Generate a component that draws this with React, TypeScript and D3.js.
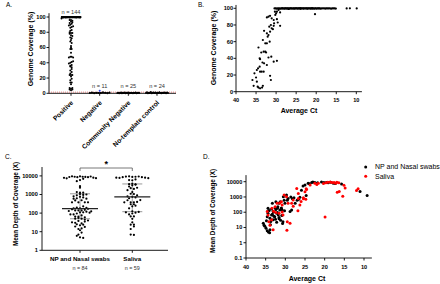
import React from 'react';
import * as d3 from 'd3';

const FONT = '"Liberation Sans", Arial, Helvetica, sans-serif';

// ---------- Panel A / B data ----------
const groupsA = ['Positive', 'Negative', 'Community Negative', 'No-template control'];
const groupCountsA = [144, 11, 25, 24];
const yTicksA = [0, 20, 40, 60, 80, 100];
const thresholdA = 1.5;

const positiveCt = [
  35.6, 35.9, 35.4, 35.0, 34.8, 34.6, 34.4, 34.0, 33.5, 33.3,
  34.8, 34.5, 34.1, 34.0, 33.6, 33.1, 33.4, 33.0, 34.0, 34.1,
  32.3, 31.9, 31.2, 31.5, 31.3, 30.6, 29.8, 34.4, 33.7, 33.1,
  32.7, 32.5, 33.3, 32.7, 32.3, 31.6, 33.0, 32.3, 31.9, 32.1,
  31.5, 31.7, 31.3, 31.1, 30.8, 30.6, 32.3, 31.9, 31.5, 31.1,
  30.6, 30.5, 30.2, 30.0, 29.8, 29.8, 29.6, 29.0, 30.3, 29.4,
  29.0, 20.3,
  30.4, 30.1, 29.9, 29.6, 29.3, 29.1, 28.9, 28.7, 28.5, 28.4, 28.2, 28.0,
  27.8, 27.7, 27.5, 27.3, 27.2, 27.0, 26.8, 26.7, 26.5, 26.3, 26.2, 26.0,
  25.8, 25.6, 25.5, 25.3, 25.1, 25.0, 24.8, 24.6, 24.5, 24.3, 24.1, 23.9,
  23.8, 23.6, 23.4, 23.2, 23.1, 22.9, 22.7, 22.5, 22.3, 22.2, 22.0, 21.8,
  21.6, 21.4, 21.3, 21.1, 20.9, 20.7, 20.5, 20.3, 20.1, 19.9, 19.7, 19.5,
  19.3, 19.1, 18.9, 18.6, 18.3, 18.0, 17.7, 17.5, 17.2, 16.9, 16.6, 16.3,
  16.0, 15.7, 15.4, 15.1, 12.4, 11.6, 9.9, 26.9, 24.0, 21.0,
];
const positiveCoverage = [
  7, 14, 22, 17, 12, 6, 5, 4, 5, 7,
  26, 28, 30, 24, 24, 24, 35, 34, 39, 40,
  32, 41, 42, 19, 14, 36, 37, 53, 47, 48,
  48, 47, 62, 58, 58, 60, 73, 70, 68, 66,
  72, 78, 80, 76, 75, 79, 89, 90, 91, 88,
  86, 82, 92, 94, 96, 87, 83, 79, 96, 98,
  95, 93,
  99.8, 100, 99.6, 99.9, 100, 99.7, 99.5, 100, 99.9, 99.8,
  100, 99.6, 99.9, 100, 99.8, 99.7, 100, 99.9, 99.4, 100,
  99.8, 99.9, 100, 99.7, 99.9, 100, 99.6, 99.8, 100, 99.9,
  100, 99.7, 99.8, 100, 99.9, 99.5, 100, 99.8, 99.9, 100,
  99.7, 100, 99.9, 99.8, 100, 99.6, 99.9, 100, 99.8, 99.7,
  100, 99.9, 100, 99.8, 99.6, 100, 99.9, 99.7, 100, 99.8,
  99.9, 100, 99.5, 99.8, 100, 99.9, 99.7, 100, 99.8, 99.9,
  100, 99.6, 99.8, 100, 99.9, 99.7, 99.8, 100, 99.9, 99.2,
  99.8, 99.9,
];
const negativeCoverage = [0.4, 1.1, 0.2, 0.8, 0.5, 3.2, 0.3, 1.4, 0.6, 0.1, 0.9];
const negativeFlagIndex = 5;
const communityNegCoverage = [
  0.3, 0.8, 0.1, 0.5, 1.2, 0.2, 0.6, 0.4, 0.9, 0.1, 0.7, 0.3, 1.0,
  0.2, 0.5, 0.8, 0.4, 0.1, 0.6, 0.3, 1.1, 0.2, 0.5, 0.7, 0.4,
];
const ntcCoverage = [
  0.5, 1.3, 0.2, 0.8, 0.4, 1.6, 0.1, 0.6, 0.9, 0.3, 1.1, 0.2,
  0.7, 0.4, 1.4, 0.5, 0.2, 0.8, 0.3, 1.0, 0.6, 0.1, 0.9, 0.4,
];

const xTicksCt = [40, 35, 30, 25, 20, 15, 10];

// ---------- Panel C / D data ----------
const groupsC = ['NP and Nasal swabs', 'Saliva'];
const groupCountsC = [84, 59];
const yTicksC = [1, 10, 100, 1000, 10000];
const yTicksD = [0.1, 1, 10, 100, 1000, 10000];

const npCt = [
  34.6, 34.3, 34.0, 33.9,
  35.6, 35.4, 35.2, 34.9, 33.8, 30.7,
  33.7, 33.1, 32.2, 31.2, 30.6, 31.6, 34.8, 32.5,
  34.6, 34.4, 33.9, 33.5, 32.9, 32.7, 32.2, 31.8, 31.6, 33.3, 32.0, 30.9,
  34.1, 33.5, 33.1, 31.4, 30.8, 28.8, 28.4, 34.4, 32.4, 31.0, 30.2, 33.0,
  34.4, 32.6, 32.0, 31.9, 31.0,
  33.3, 32.4, 31.6, 31.3, 30.1, 30.3, 29.5, 29.3, 28.2, 27.5, 27.8, 26.6, 27.0,
  30.5, 29.7, 26.3, 24.7, 9.2, 28.6,
  25.9, 11.0,
  25.5, 25.0, 24.2, 23.9, 23.3, 23.0, 22.5, 21.8, 20.8, 20.2, 19.6, 19.1, 18.5, 17.8, 17.3, 15.7,
];
const npDepth = [
  6, 5, 4.6, 7,
  19, 14, 12, 9, 15, 18,
  25, 32, 22, 30, 24, 38, 28, 35,
  50, 85, 40, 65, 55, 50, 85, 65, 45, 75, 95, 60,
  130, 160, 110, 140, 140, 110, 140, 120, 150, 170, 125, 105,
  180, 200, 180, 230, 190,
  380, 480, 380, 490, 380, 600, 620, 800, 750, 380, 900, 700, 600,
  1050, 1350, 950, 1250, 1250, 1000,
  2800, 2300,
  5200, 6000, 7900, 7400, 8700, 9500, 9000, 8500, 9500, 9000, 8800, 8500, 9300, 8000, 7500, 7000,
];
const salivaCt = [
  33.1, 29.6,
  34.2, 33.9, 29.5, 28.8,
  34.4, 33.5, 30.6, 19.9,
  34.6, 31.6, 32.4, 30.8, 33.0, 26.8, 33.4,
  32.6, 32.1, 31.0, 30.8, 29.3, 28.4, 26.3, 31.4, 28.0,
  28.0, 26.7, 26.0, 15.4, 29.7, 25.4, 25.4, 24.8,
  30.3, 26.7, 25.0, 16.8, 16.3, 11.9,
  27.1, 24.6, 24.7, 23.7, 15.1, 14.8, 11.5, 22.0,
  22.5, 21.6, 19.7, 19.2, 18.6, 18.1, 17.6, 16.9, 16.4, 17.2, 20.3,
];
const salivaDepth = [
  7, 6.7,
  24, 14, 24, 19,
  66, 32, 66, 49,
  110, 85, 95, 105, 115, 125, 180,
  230, 380, 490, 300, 380, 380, 300, 400, 250,
  630, 800, 500, 1100, 1050, 750, 900, 700,
  1350, 1700, 2200, 2000, 2300, 2700,
  3600, 3100, 3400, 6000, 5800, 3800, 3500, 6500,
  8000, 7800, 8500, 9200, 9500, 8800, 9000, 9300, 8500, 8000, 7500,
];

// ---------- layout helper (dot dodging) ----------
function swarmX(vals: number[], yOf: (v: number) => number, cx: number, spacing: number, maxHalf: number, bin: number): number[] {
  const xs = new Array(vals.length).fill(cx);
  const items = vals.map((v, i) => ({ i, y: yOf(v) }));
  const bins = d3.group(items, (d) => Math.round(d.y / bin));
  for (const [, arr] of bins) {
    const n = arr.length;
    const s = n > 1 ? Math.min(spacing, (2 * maxHalf) / (n - 1)) : 0;
    arr.forEach((it, k) => {
      xs[it.i] = cx + (k - (n - 1) / 2) * s;
    });
  }
  return xs;
}

const fmtLog = (v: number) => (v < 1 ? String(v) : d3.format('d')(v));

export default function App() {
  // Panel A scales
  const xA = d3.scalePoint<string>().domain(groupsA).range([71, 157]);
  const yA = d3.scaleLinear().domain([0, 100]).range([93.3, 17]);
  const groupValsA = [positiveCoverage, negativeCoverage, communityNegCoverage, ntcCoverage];

  // Panel B scales
  const xB = d3.scaleLinear().domain([40, 10]).range([236, 356.3]);
  const yB = d3.scaleLinear().domain([0, 100]).range([91.7, 8.3]);

  // Panel C scales
  const xC = d3.scalePoint<string>().domain(groupsC).range([80, 132.3]);
  const yC = d3.scaleLog().domain([1, 10000]).range([250.3, 175.9]);
  const groupValsC = [npDepth, salivaDepth];

  // Panel D scales
  const xD = d3.scaleLinear().domain([40, 10]).range([246, 364]);
  const yD = d3.scaleLog().domain([0.1, 10000]).range([258, 181.7]);

  const tickFont = { fontSize: 5.6, fontWeight: 700 as const };
  const ax = { stroke: '#000', strokeWidth: 0.9, fill: 'none' };

  return (
    <svg width={440} height={284} style={{ position: 'absolute', left: 0, top: 0, background: '#fff' }} fontFamily={FONT}>
      {/* ================= Panel A ================= */}
      <text x={6} y={7} fontSize={6.5}>A.</text>
      <text transform={`translate(31,49) rotate(-90)`} textAnchor="middle" dy="0.35em" fontSize={7} fontWeight={700}>
        Genome Coverage (%)
      </text>
      <line x1={49} x2={49} y1={yA(105)} y2={yA(0)} {...ax} />
      {yTicksA.map((t) => (
        <g key={'ya' + t}>
          <line x1={46.5} x2={49} y1={yA(t)} y2={yA(t)} {...ax} />
          <text x={45.7} y={yA(t)} dy="0.35em" textAnchor="end" {...tickFont}>{t}</text>
        </g>
      ))}
      <line x1={49} x2={176} y1={yA(0)} y2={yA(0)} {...ax} />
      <line x1={49} x2={176} y1={yA(thresholdA)} y2={yA(thresholdA)} stroke="#e06060" strokeWidth={0.8} strokeDasharray="1,1" />
      {groupsA.map((g, gi) => {
        const cx = xA(g)!;
        const vals = groupValsA[gi];
        const xs = gi === 0
          ? swarmX(vals, yA, cx, 1.4, 9.5, 2.5)
          : swarmX(vals, yA, cx, 2.2, 11, 3);
        const med = d3.median(vals)!;
        return (
          <g key={'ga' + g}>
            <line x1={cx} x2={cx} y1={yA(0)} y2={yA(0) + 2.5} {...ax} />
            {vals.map((v, i) => (
              <circle key={i} cx={xs[i]} cy={yA(v)} r={1.0}
                fill={gi === 1 && i === negativeFlagIndex ? '#2d3ff0' : '#000'} />
            ))}
            <line x1={cx - 10} x2={cx + 10} y1={yA(med)} y2={yA(med)} stroke="#000" strokeWidth={1.2} />
            <text x={cx} y={gi === 0 ? 12 : 86} dy="0.35em" textAnchor="middle" fontSize={5.6} fill="#333">
              {`n = ${groupCountsA[gi]}`}
            </text>
            <text transform={`translate(${cx + 1},${101.5}) rotate(-45)`} textAnchor="end" dy="0.35em" fontSize={6.6} fontWeight={700}>
              {g}
            </text>
          </g>
        );
      })}

      {/* ================= Panel B ================= */}
      <text x={198} y={7} fontSize={6.5}>B.</text>
      <text transform={`translate(213.5,48) rotate(-90)`} textAnchor="middle" dy="0.35em" fontSize={7} fontWeight={700}>
        Genome Coverage (%)
      </text>
      <line x1={236} x2={236} y1={yB(104)} y2={yB(0)} {...ax} />
      {yTicksA.map((t) => (
        <g key={'yb' + t}>
          <line x1={233.5} x2={236} y1={yB(t)} y2={yB(t)} {...ax} />
          <text x={233} y={yB(t)} dy="0.35em" textAnchor="end" {...tickFont}>{t}</text>
        </g>
      ))}
      <line x1={236} x2={xB(8.6)} y1={yB(0)} y2={yB(0)} {...ax} />
      {xTicksCt.map((t) => (
        <g key={'xb' + t}>
          <line x1={xB(t)} x2={xB(t)} y1={yB(0)} y2={yB(0) + 2.5} {...ax} />
          <text x={xB(t)} y={100} dy="0.35em" textAnchor="middle" {...tickFont}>{t}</text>
        </g>
      ))}
      <text x={299} y={111} dy="0.35em" textAnchor="middle" fontSize={7} fontWeight={700}>Average Ct</text>
      {positiveCt.map((c, i) => (
        <circle key={'pb' + i} cx={xB(c)} cy={yB(positiveCoverage[i])} r={1.1} fill="#000" />
      ))}

      {/* ================= Panel C ================= */}
      <text x={5} y={159} fontSize={6.5}>C.</text>
      <text transform={`translate(15.7,204) rotate(-90)`} textAnchor="middle" dy="0.35em" fontSize={6.3} fontWeight={700}>
        Mean Depth of Coverage (X)
      </text>
      <line x1={42} x2={42} y1={yC(30000)} y2={yC(1)} {...ax} />
      {yTicksC.map((t) => (
        <g key={'yc' + t}>
          <line x1={39.5} x2={42} y1={yC(t)} y2={yC(t)} {...ax} />
          <text x={37.8} y={yC(t)} dy="0.35em" textAnchor="end" {...tickFont}>{fmtLog(t)}</text>
        </g>
      ))}
      <line x1={42} x2={168} y1={yC(1)} y2={yC(1)} {...ax} />
      {groupsC.map((g, gi) => {
        const cx = xC(g)!;
        const vals = groupValsC[gi];
        const xs = swarmX(vals, (v) => yC(v), cx, 3.2, 16, 3);
        const sorted = [...vals].sort(d3.ascending);
        const med = d3.quantile(sorted, 0.5)!;
        const q1 = d3.quantile(sorted, 0.25)!;
        const q3 = d3.quantile(sorted, 0.75)!;
        return (
          <g key={'gc' + g}>
            <line x1={cx} x2={cx} y1={yC(1)} y2={yC(1) + 2.5} {...ax} />
            <line x1={cx} x2={cx} y1={yC(q1)} y2={yC(q3)} stroke="#aaa" strokeWidth={1.1} />
            <line x1={cx - 10} x2={cx + 10} y1={yC(q1)} y2={yC(q1)} stroke="#aaa" strokeWidth={1.2} />
            <line x1={cx - 10} x2={cx + 10} y1={yC(q3)} y2={yC(q3)} stroke="#aaa" strokeWidth={1.2} />
            {vals.map((v, i) => (
              <circle key={i} cx={xs[i]} cy={yC(v)} r={1.1} fill="#000" />
            ))}
            <line x1={cx - 18} x2={cx + 18} y1={yC(med)} y2={yC(med)} stroke="#222" strokeWidth={1.3} />
            <text x={cx} y={259} dy="0.35em" textAnchor="middle" fontSize={6.2} fontWeight={700}>{g}</text>
            <text x={cx} y={268} dy="0.35em" textAnchor="middle" fontSize={5.4} fill="#333">{`n = ${groupCountsC[gi]}`}</text>
          </g>
        );
      })}
      {/* significance bracket */}
      <path d={`M${xC(groupsC[0])},171 V168 H${xC(groupsC[1])} V171`} fill="none" stroke="#555" strokeWidth={0.8} />
      <text x={(xC(groupsC[0])! + xC(groupsC[1])!) / 2} y={166.5} textAnchor="middle" fontSize={9} fontWeight={700}>*</text>

      {/* ================= Panel D ================= */}
      <text x={203} y={159} fontSize={6.5}>D.</text>
      <text transform={`translate(213,211) rotate(-90)`} textAnchor="middle" dy="0.35em" fontSize={6.3} fontWeight={700}>
        Mean Depth of Coverage (X)
      </text>
      <line x1={246} x2={246} y1={yD(27000)} y2={yD(0.1)} {...ax} />
      {yTicksD.map((t) => (
        <g key={'yd' + t}>
          <line x1={243.5} x2={246} y1={yD(t)} y2={yD(t)} {...ax} />
          <text x={242.3} y={yD(t)} dy="0.35em" textAnchor="end" {...tickFont}>{fmtLog(t)}</text>
        </g>
      ))}
      <line x1={246} x2={xD(8)} y1={yD(0.1)} y2={yD(0.1)} {...ax} />
      {xTicksCt.map((t) => (
        <g key={'xd' + t}>
          <line x1={xD(t)} x2={xD(t)} y1={yD(0.1)} y2={yD(0.1) + 2.5} {...ax} />
          <text x={xD(t)} y={267} dy="0.35em" textAnchor="middle" {...tickFont}>{t}</text>
        </g>
      ))}
      <text x={307} y={279} dy="0.35em" textAnchor="middle" fontSize={7} fontWeight={700}>Average Ct</text>
      {npCt.map((c, i) => (
        <circle key={'dn' + i} cx={xD(c)} cy={yD(npDepth[i])} r={1.5} fill="#000" />
      ))}
      {salivaCt.map((c, i) => (
        <circle key={'ds' + i} cx={xD(c)} cy={yD(salivaDepth[i])} r={1.5} fill="#f00" />
      ))}
      {/* legend */}
      <circle cx={365.7} cy={167} r={1.5} fill="#000" />
      <text x={375} y={167} dy="0.35em" fontSize={7}>NP and Nasal swabs</text>
      <circle cx={365.7} cy={176.3} r={1.5} fill="#f00" />
      <text x={375} y={176.3} dy="0.35em" fontSize={7}>Saliva</text>
    </svg>
  );
}
